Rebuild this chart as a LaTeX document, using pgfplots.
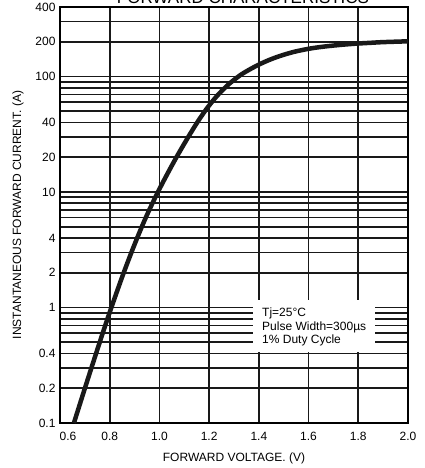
\documentclass[border=0pt]{standalone}
\usepackage{fontspec}
\setmainfont{Liberation Sans}
\usepackage{pgfplots}
\pgfplotsset{compat=1.18}

\begin{document}
\begin{tikzpicture}
\begin{axis}[
  name=ax, at={(0,0)}, anchor=south west,
  scale only axis, width=348pt, height=416pt,
  xmin=0.6, xmax=2.0,
  ymode=log, ymin=0.1, ymax=400,
  xtick={0.6,0.8,1.0,1.2,1.4,1.6,1.8,2.0},
  xticklabels={\hspace*{16pt}0.6,0.8,1.0,1.2,1.4,1.6,1.8,2.0},
  ytick={0.1,0.2,0.4,1,2,4,10,20,40,100,200,400},
  yticklabels={0.1,0.2,0.4,1,2,4,10,20,40,100,200,400},
  minor ytick={0.3,0.5,0.6,0.7,0.8,0.9,3,5,6,7,8,9,30,50,60,70,80,90,300},
  grid=both,
  major grid style={black!90, line width=1.7pt},
  minor grid style={black!90, line width=1.7pt},
  axis line style={line width=2.2pt},
  tick style={draw=none},
  ticklabel style={font=\fontsize{12}{12}\selectfont},
  xticklabel style={yshift=-6pt},
  yticklabel style={xshift=-1pt},
  every axis x label/.style={at={(rel axis cs:0.5,0)}, anchor=center, yshift=-35pt,
    font=\fontsize{12}{12}\selectfont},
  every axis y label/.style={at={(rel axis cs:0,0.5)}, anchor=center, rotate=90, yshift=42pt,
    font=\fontsize{12}{12}\selectfont},
  xlabel={FORWARD VOLTAGE. (V)},
  ylabel={INSTANTANEOUS FORWARD CURRENT. (A)},
]
\addplot[black!90, line width=4.5pt, smooth, tension=0.5] table {
0.656 0.100
0.703 0.209
0.750 0.431
0.779 0.667
0.808 1.02
0.854 1.94
0.900 3.52
0.945 6.0
0.990 9.62
1.030 14.1
1.069 20.1
1.110 28.5
1.150 39.4
1.190 52.6
1.232 68.1
1.278 85.5
1.324 102.3
1.362 114.8
1.400 126.8
1.440 138.7
1.485 150.7
1.540 163.3
1.600 173.8
1.650 180.3
1.700 185.4
1.750 189.7
1.800 193.2
1.850 195.9
1.900 198.6
2.000 201.8
};
\fill[white] (rel axis cs:0.5546,0.1707) rectangle (rel axis cs:0.905,0.2957);
\node[anchor=north west, inner sep=0pt, align=left, font=\fontsize{12}{13.4}\selectfont]
  at (rel axis cs:0.5805,0.2764) {Tj=25°C\\Pulse Width=300µs\\1\% Duty Cycle};
\end{axis}
\node[anchor=base, font=\fontsize{17}{17}\selectfont] at (183pt,419pt) {FORWARD CHARACTERISTICS};
\pgfresetboundingbox
\path[use as bounding box] (-60pt,-45pt) rectangle (364pt,423pt);
\end{tikzpicture}
\end{document}
